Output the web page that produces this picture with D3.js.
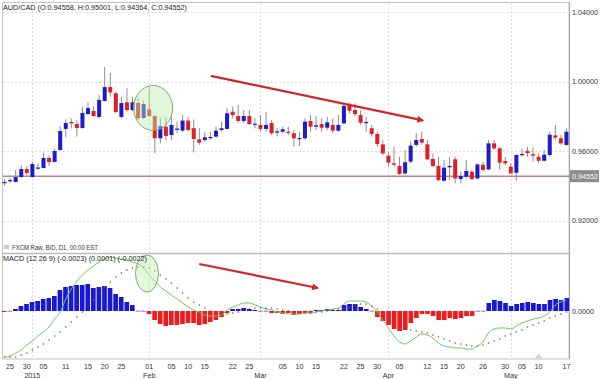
<!DOCTYPE html>
<html>
<head>
<meta charset="utf-8">
<script src="https://cdn.jsdelivr.net/npm/d3@7"></script>
<style>
	body { margin: 0; background: #fff; }
	svg { display: block; font-family: 'Liberation Sans', Arial, sans-serif; }
</style>
</head>
<body>
<div id="chart-area"></div>
<script>
// DATA (daily AUD/CAD, one entry per bar)

const opens = [0.9416,0.9430,0.9422,0.9450,0.9496,0.9450,0.9502,0.9502,0.9560,0.9537,0.9606,0.9727,0.9767,0.9755,0.9732,0.9813,0.9830,0.9796,0.9888,0.9968,0.9932,0.9796,0.9880,0.9836,0.9876,0.9790,0.9840,0.9801,0.9673,0.9740,0.9692,0.9725,0.9717,0.9775,0.9731,0.9667,0.9663,0.9678,0.9683,0.9721,0.9727,0.9826,0.9801,0.9773,0.9801,0.9753,0.9750,0.9727,0.9761,0.9710,0.9711,0.9711,0.9702,0.9669,0.9673,0.9773,0.9740,0.9755,0.9734,0.9750,0.9717,0.9759,0.9865,0.9836,0.9807,0.9761,0.9731,0.9698,0.9638,0.9573,0.9529,0.9514,0.9471,0.9539,0.9635,0.9669,0.9638,0.9554,0.9514,0.9429,0.9506,0.9552,0.9439,0.9452,0.9481,0.9442,0.9521,0.9494,0.9644,0.9615,0.9542,0.9510,0.9475,0.9577,0.9600,0.9581,0.9567,0.9544,0.9577,0.9690,0.9673,0.9635]
const highs = [0.9439,0.9445,0.9491,0.9519,0.9514,0.9537,0.9528,0.9590,0.9577,0.9614,0.9744,0.9782,0.9788,0.9778,0.9855,0.9882,0.9859,0.9922,1.0083,1.0049,0.9941,0.9912,0.9961,0.9912,0.9905,0.9890,0.9966,0.9807,0.9788,0.9794,0.9797,0.9769,0.9807,0.9797,0.9782,0.9731,0.9711,0.9711,0.9740,0.9769,0.9846,0.9855,0.9865,0.9836,0.9836,0.9788,0.9807,0.9826,0.9778,0.9731,0.9740,0.9740,0.9721,0.9711,0.9788,0.9807,0.9801,0.9788,0.9797,0.9788,0.9807,0.9874,0.9878,0.9874,0.9836,0.9797,0.9750,0.9711,0.9663,0.9596,0.9625,0.9567,0.9606,0.9654,0.9702,0.9711,0.9663,0.9587,0.9567,0.9548,0.9567,0.9567,0.9481,0.9548,0.9491,0.9529,0.9539,0.9663,0.9663,0.9625,0.9567,0.9529,0.9580,0.9615,0.9625,0.9621,0.9587,0.9606,0.9711,0.9750,0.9692,0.9731]
const lows = [0.9399,0.9416,0.9419,0.9447,0.9462,0.9447,0.9491,0.9500,0.9514,0.9535,0.9603,0.9679,0.9730,0.9683,0.9730,0.9807,0.9798,0.9788,0.9886,0.9914,0.9817,0.9788,0.9826,0.9830,0.9778,0.9785,0.9798,0.9587,0.9644,0.9663,0.9663,0.9702,0.9711,0.9711,0.9592,0.9635,0.9654,0.9663,0.9673,0.9711,0.9725,0.9788,0.9760,0.9760,0.9750,0.9730,0.9711,0.9711,0.9692,0.9683,0.9702,0.9692,0.9625,0.9629,0.9663,0.9711,0.9721,0.9711,0.9721,0.9702,0.9711,0.9755,0.9817,0.9798,0.9750,0.9711,0.9683,0.9625,0.9577,0.9510,0.9510,0.9462,0.9462,0.9529,0.9625,0.9635,0.9548,0.9506,0.9423,0.9423,0.9433,0.9414,0.9414,0.9442,0.9433,0.9437,0.9481,0.9491,0.9606,0.9491,0.9519,0.9468,0.9430,0.9567,0.9567,0.9538,0.9529,0.9538,0.9567,0.9663,0.9635,0.9629]
const closes = [0.9422,0.9433,0.9450,0.9496,0.9473,0.9525,0.9505,0.9560,0.9537,0.9600,0.9715,0.9761,0.9759,0.9732,0.9819,0.9847,0.9801,0.9894,0.9968,0.9937,0.9824,0.9876,0.9836,0.9880,0.9788,0.9870,0.9801,0.9673,0.9744,0.9686,0.9750,0.9729,0.9775,0.9721,0.9669,0.9648,0.9679,0.9681,0.9717,0.9731,0.9817,0.9807,0.9773,0.9801,0.9755,0.9757,0.9727,0.9750,0.9702,0.9713,0.9725,0.9705,0.9673,0.9675,0.9769,0.9740,0.9748,0.9734,0.9765,0.9717,0.9750,0.9859,0.9832,0.9813,0.9763,0.9767,0.9698,0.9640,0.9586,0.9533,0.9521,0.9468,0.9535,0.9631,0.9663,0.9648,0.9552,0.9514,0.9433,0.9504,0.9514,0.9442,0.9456,0.9485,0.9439,0.9523,0.9491,0.9644,0.9615,0.9533,0.9529,0.9471,0.9577,0.9583,0.9587,0.9573,0.9544,0.9579,0.9694,0.9677,0.9644,0.9711]

// MACD (12 26 9)
const histogram = [-0.0001,0.00002,0.0002,0.0005,0.0007,0.0009,0.0010,0.0012,0.0013,0.0015,0.0021,0.0024,0.0025,0.0026,0.0026,0.0027,0.0023,0.0024,0.0025,0.0023,0.0017,0.0014,0.0009,0.0006,0.00002,0.00002,-0.0003,-0.0009,-0.0013,-0.0015,-0.0014,-0.0014,-0.0013,-0.0012,-0.0012,-0.0014,-0.0013,-0.0011,-0.0009,-0.0006,-0.0002,0.0002,0.0002,0.0003,0.0002,0.0001,0.00002,0.00002,-0.0002,-0.0002,-0.0003,-0.0002,-0.0004,-0.0003,-0.0002,-0.0002,0.0001,0.0001,0.0002,0.0001,0.0001,0.0006,0.0007,0.0007,0.0004,0.0002,0.00002,-0.0006,-0.0010,-0.0014,-0.0018,-0.0020,-0.0019,-0.0012,-0.0007,-0.0003,-0.0003,-0.0005,-0.0009,-0.0009,-0.0007,-0.0008,-0.0007,-0.0005,-0.0005,0.00002,0.00002,0.0008,0.0011,0.0010,0.0008,0.0005,0.0007,0.0008,0.0009,0.0008,0.0007,0.0007,0.0011,0.0012,0.0011,0.0013]
const macdLine = [-0.0046,-0.0045,-0.0042,-0.0039,-0.0034,-0.0030,-0.0025,-0.0021,-0.0016,-0.0008,-0.0001,0.0012,0.0022,0.0030,0.0036,0.0041,0.0045,0.0049,0.0052,0.0054,0.0053,0.0052,0.0051,0.0049,0.0047,0.0043,0.0036,0.0030,0.0024,0.0020,0.0016,0.0012,0.0008,0.0004,0.0001,-0.0001,-0.0004,-0.0005,-0.0005,-0.0004,0.0001,0.0004,0.0006,0.0008,0.0008,0.0006,0.0004,0.0002,0.0001,-0.0001,-0.0002,-0.0003,-0.0003,-0.0003,-0.0002,-0.0002,-0.0001,0.0000,0.0001,0.0002,0.0003,0.0007,0.0010,0.0010,0.0010,0.0009,0.0005,-0.0001,-0.0009,-0.0017,-0.0025,-0.0031,-0.0033,-0.0030,-0.0026,-0.0023,-0.0024,-0.0027,-0.0032,-0.0035,-0.0036,-0.0037,-0.0037,-0.0038,-0.0038,-0.0035,-0.0031,-0.0022,-0.0018,-0.0017,-0.0017,-0.0018,-0.0015,-0.0012,-0.0010,-0.0008,-0.0007,-0.0005,-0.0001,0.0006,0.0009,0.0011]
const signalLine = [-0.0046,-0.0046,-0.0046,-0.0044,-0.0042,-0.0039,-0.0036,-0.0033,-0.0029,-0.0025,-0.0021,-0.0016,-0.0011,-0.0006,-0.0001,0.0005,0.0011,0.0018,0.0024,0.0029,0.0034,0.0038,0.0041,0.0043,0.0044,0.0044,0.0043,0.0040,0.0036,0.0032,0.0028,0.0023,0.0018,0.0013,0.0009,0.0006,0.0003,0.0000,-0.0002,-0.0003,-0.0003,-0.0002,-0.0001,0.0001,0.0002,0.0003,0.0003,0.0003,0.0003,0.0002,0.0001,0.0000,-0.0001,-0.0002,-0.0002,-0.0002,-0.0001,-0.0001,0.0000,0.0001,0.0002,0.0003,0.0004,0.0006,0.0007,0.0007,0.0005,0.0002,-0.0002,-0.0007,-0.0012,-0.0015,-0.0017,-0.0019,-0.0020,-0.0021,-0.0022,-0.0024,-0.0026,-0.0028,-0.0030,-0.0032,-0.0033,-0.0034,-0.0035,-0.0035,-0.0034,-0.0032,-0.0030,-0.0028,-0.0025,-0.0023,-0.0021,-0.0019,-0.0016,-0.0014,-0.0012,-0.0010,-0.0007,-0.0005,-0.0003,-0.0001]

// AXIS LABELS
const priceTicks = [1.04, 1.00, 0.96, 0.92]
const dayTickIndex = [1,4,7,11,15,18,21,26,30,33,36,41,44,50,53,56,61,64,67,71,76,79,82,86,90,93,96,101]
const dayTickLabels = ['25','30','05','11','15','20','25','01','05','10','15','22','25','05','10','15','22','25','30','05','12','15','20','26','30','05','10','17']
const monthTickIndex = [5, 26, 46, 69, 91]
const monthTickLabels = ['2015', 'Feb', 'Mar', 'Apr', 'May']
const lastPrice = 0.94552

// ANNOTATIONS (bar index, value)
const priceArrow = [[37.1, 1.0032], [75.2, 0.9776]]
const macdArrow = [[35, 0.0047], [56.3, 0.0023]]
const priceCircle = [26.7, 0.98475]
const macdCircle = [25.6, 0.00375]

const width = 600
const height = 379
const blue = '#1c1cc8'
const red = '#dc2024'

let svg = d3.select('#chart-area').append('svg')
	.attr('width', width)
	.attr('height', height)

let defs = svg.append('defs')
defs.append('marker')
	.attr('id', 'arrow')
	.attr('markerUnits', 'userSpaceOnUse')
	.attr('viewBox', '0 0 10 10')
	.attr('refX', 8).attr('refY', 5)
	.attr('markerWidth', 10).attr('markerHeight', 7)
	.attr('orient', 'auto')
	.append('path')
		.attr('d', 'M0,0 L10,5 L0,10 z')
		.attr('fill', '#d02828')

let bars = d3.range(opens.length)

// X SCALE

let x = d3.scaleBand()
	.domain(bars)
	.range([1, 570])
	.padding(0.28)

let xHist = d3.scaleBand()
	.domain(bars)
	.range([1, 570])
	.padding(0.16)

let cx = (i) => x(0) + x.bandwidth() / 2 + i * x.step()

// Y SCALES

let y = d3.scaleLinear()
	.domain([0.92, 1.04])
	.range([220.5, 12])

let yM = d3.scaleLinear()
	.domain([-0.0048, 0.0058])
	.range([359, 253])

// PANELS

svg.append('rect')
	.attr('x', 2.5).attr('y', 2.5)
	.attr('width', 566.5).attr('height', 356.5)
	.attr('fill', 'none')
	.attr('stroke', '#c4c4c4')

svg.append('line')
	.attr('x1', 2.5).attr('x2', 569)
	.attr('y1', 253.5).attr('y2', 253.5)
	.attr('stroke', '#bdbdbd')
	.attr('stroke-width', 1.5)

// GRID

svg.append('g').selectAll('line')
	.data(priceTicks)
	.enter().append('line')
		.attr('x1', 3).attr('x2', 569)
		.attr('y1', (d) => Math.round(y(d)) + 0.5)
		.attr('y2', (d) => Math.round(y(d)) + 0.5)
		.attr('stroke', '#dcdcdc')
		.attr('stroke-dasharray', '2,2')

svg.append('g').selectAll('line')
	.data(monthTickIndex)
	.enter().append('line')
		.attr('x1', (d) => Math.round(cx(d)) + 0.5)
		.attr('x2', (d) => Math.round(cx(d)) + 0.5)
		.attr('y1', 3).attr('y2', 359)
		.attr('stroke', '#dcdcdc')
		.attr('stroke-dasharray', '2,2')

// RIGHT AXIS

svg.append('line')
	.attr('x1', 569.5).attr('x2', 569.5)
	.attr('y1', 2).attr('y2', 359)
	.attr('stroke', '#a8a8a8')

let yAxisGroup = svg.append('g')
	.attr('transform', 'translate(569, 0)')
	.call(d3.axisRight(y).tickValues(priceTicks).tickSize(0).tickPadding(3).tickFormat(d3.format('.5f')))
yAxisGroup.select('.domain').remove()
yAxisGroup.selectAll('text')
	.attr('font-size', 7.2)
	.attr('font-family', "'Liberation Sans', Arial, sans-serif")
	.attr('fill', '#333')

let yMAxisGroup = svg.append('g')
	.attr('transform', 'translate(569, 0)')
	.call(d3.axisRight(yM).tickValues([0]).tickSize(0).tickPadding(3).tickFormat(d3.format('.4f')))
yMAxisGroup.select('.domain').remove()
yMAxisGroup.selectAll('text')
	.attr('font-size', 7.2)
	.attr('font-family', "'Liberation Sans', Arial, sans-serif")
	.attr('fill', '#333')

// LAST PRICE LINE

svg.append('line')
	.attr('x1', 3).attr('x2', 569)
	.attr('y1', y(lastPrice)).attr('y2', y(lastPrice))
	.attr('stroke', '#a24545')
	.attr('stroke-width', 1)

svg.append('rect')
	.attr('x', 570).attr('y', y(lastPrice) - 6)
	.attr('width', 29).attr('height', 12)
	.attr('fill', '#8c8c8c')

svg.append('text')
	.attr('x', 572).attr('y', y(lastPrice) + 2.6)
	.attr('font-size', 7.2)
	.attr('fill', '#fff')
	.text(d3.format('.5f')(lastPrice))

// CANDLES

let candles = svg.append('g').selectAll('g')
	.data(bars)
	.enter().append('g')

candles.append('line')
	.attr('x1', (i) => cx(i)).attr('x2', (i) => cx(i))
	.attr('y1', (i) => y(highs[i])).attr('y2', (i) => y(lows[i]))
	.attr('stroke', '#8e8e8e')
	.attr('stroke-width', 1)

candles.append('rect')
	.attr('x', (i) => x(i))
	.attr('width', x.bandwidth())
	.attr('y', (i) => y(Math.max(opens[i], closes[i])))
	.attr('height', (i) => Math.max(1.2, Math.abs(y(opens[i]) - y(closes[i]))))
	.attr('fill', (i) => closes[i] >= opens[i] ? blue : red)

// MACD HISTOGRAM

svg.append('g').selectAll('rect')
	.data(bars)
	.enter().append('rect')
		.attr('x', (i) => xHist(i))
		.attr('width', xHist.bandwidth())
		.attr('y', (i) => histogram[i] >= 0 ? yM(histogram[i]) : yM(0))
		.attr('height', (i) => Math.max(0.6, Math.abs(yM(histogram[i]) - yM(0))))
		.attr('fill', (i) => histogram[i] >= 0 ? '#1818d2' : '#ee1c1c')

svg.append('path')
	.datum(bars)
	.attr('fill', 'none')
	.attr('stroke', '#6cc66c')
	.attr('stroke-width', 1)
	.attr('d', d3.line().curve(d3.curveMonotoneX).x((i) => cx(i)).y((i) => yM(macdLine[i])))

svg.append('g').selectAll('circle')
	.data(bars)
	.enter().append('circle')
		.attr('cx', (i) => cx(i))
		.attr('cy', (i) => yM(signalLine[i]))
		.attr('r', 0.8)
		.attr('fill', '#b03a3a')

// ANNOTATIONS

svg.append('ellipse')
	.attr('cx', cx(priceCircle[0])).attr('cy', y(priceCircle[1]))
	.attr('rx', 19.5).attr('ry', 22.5)
	.attr('fill', 'rgba(190, 240, 175, 0.45)')
	.attr('stroke', '#7fa878')
	.attr('stroke-width', 1)

svg.append('ellipse')
	.attr('cx', cx(macdCircle[0])).attr('cy', yM(macdCircle[1]))
	.attr('rx', 11.5).attr('ry', 18.5)
	.attr('fill', 'rgba(190, 240, 175, 0.45)')
	.attr('stroke', '#7fa878')
	.attr('stroke-width', 1)

svg.append('line')
	.attr('x1', cx(priceArrow[0][0])).attr('y1', y(priceArrow[0][1]))
	.attr('x2', cx(priceArrow[1][0])).attr('y2', y(priceArrow[1][1]))
	.attr('stroke', '#d02828')
	.attr('stroke-width', 2.2)
	.attr('marker-end', 'url(#arrow)')

svg.append('line')
	.attr('x1', cx(macdArrow[0][0])).attr('y1', yM(macdArrow[0][1]))
	.attr('x2', cx(macdArrow[1][0])).attr('y2', yM(macdArrow[1][1]))
	.attr('stroke', '#d02828')
	.attr('stroke-width', 2.2)
	.attr('marker-end', 'url(#arrow)')

// small marker at the bottom of the MACD pane
svg.append('path')
	.attr('d', 'M' + (cx(96) - 4.5) + ',359 L' + cx(96) + ',353.5 L' + (cx(96) + 4.5) + ',359 z')
	.attr('fill', '#d6d6d6')

// X AXIS LABELS

svg.append('g').selectAll('text')
	.data(dayTickIndex)
	.enter().append('text')
		.attr('x', (d) => cx(d))
		.attr('y', 368.5)
		.attr('text-anchor', 'middle')
		.attr('font-size', 7.2)
		.attr('fill', '#333')
		.text((d, k) => dayTickLabels[k])

svg.append('g').selectAll('text')
	.data(monthTickIndex)
	.enter().append('text')
		.attr('x', (d) => cx(d))
		.attr('y', 377.5)
		.attr('text-anchor', 'middle')
		.attr('font-size', 7.2)
		.attr('fill', '#333')
		.text((d, k) => monthTickLabels[k])

// TITLES

svg.append('text')
	.attr('x', 3).attr('y', 9.5)
	.attr('font-size', 7.2)
	.attr('fill', '#222')
	.attr('textLength', 184)
	.attr('lengthAdjust', 'spacingAndGlyphs')
	.text('AUD/CAD (O:0.94558, H:0.95001, L:0.94364, C:0.94552)')

svg.append('rect')
	.attr('x', 4).attr('y', 245)
	.attr('width', 5).attr('height', 4)
	.attr('fill', '#c8c8c8')

svg.append('text')
	.attr('x', 12).attr('y', 249.5)
	.attr('font-size', 7)
	.attr('fill', '#333')
	.attr('textLength', 86)
	.attr('lengthAdjust', 'spacingAndGlyphs')
	.text('FXCM Raw, BID, D1, 00:00 EST')

svg.append('text')
	.attr('x', 3).attr('y', 260.5)
	.attr('font-size', 7.2)
	.attr('fill', '#222')
	.attr('textLength', 144)
	.attr('lengthAdjust', 'spacingAndGlyphs')
	.text('MACD (12 26 9)  (-0.0023) (0.0001) (-0.0022)')
</script>
</body>
</html>
